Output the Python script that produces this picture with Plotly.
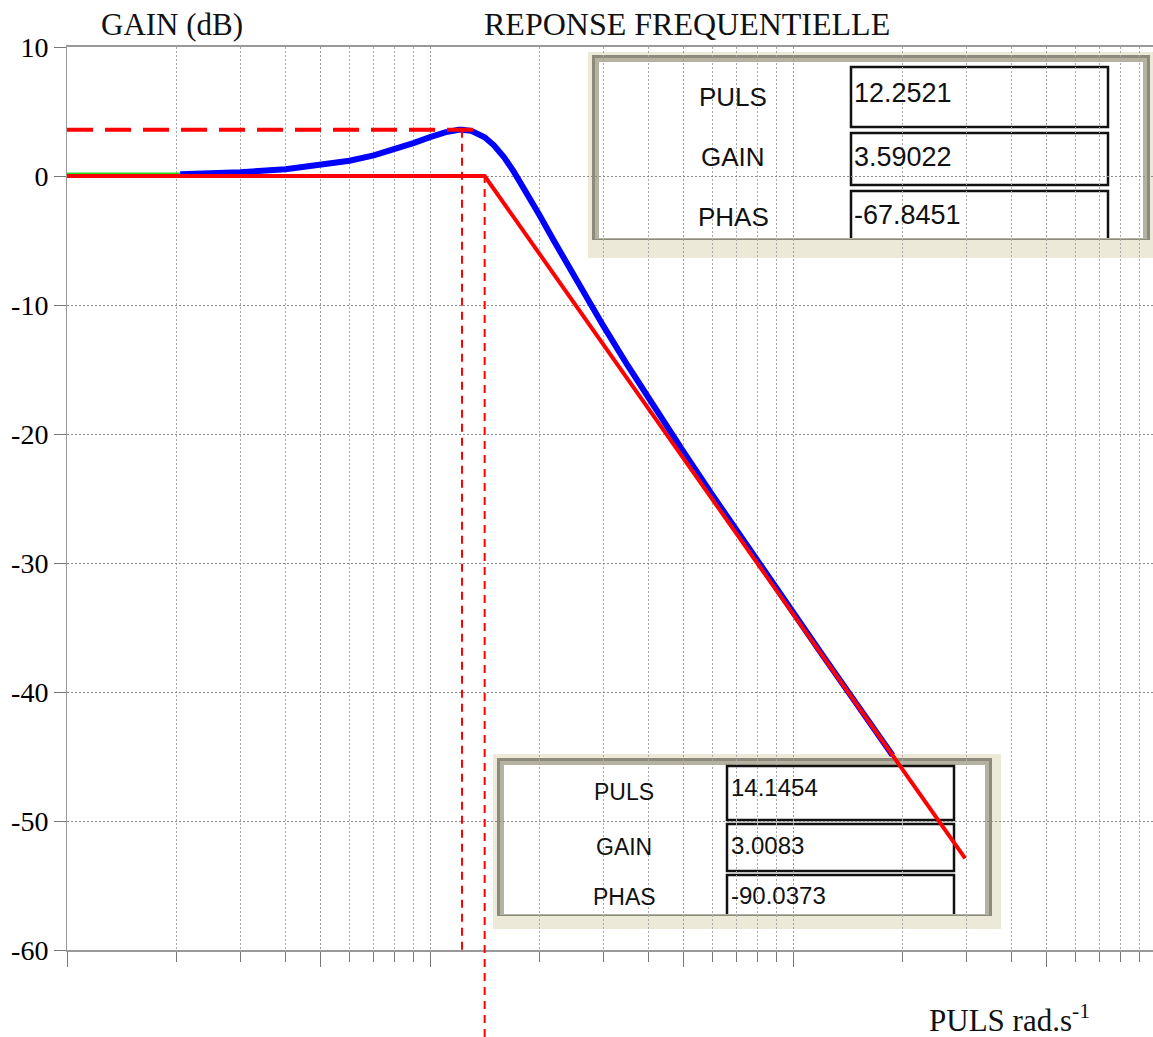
import plotly.graph_objects as go

# ---- data ----------------------------------------------------------------
# measured frequency response (rad/s, dB)
PULS_MESURE = [2.05, 3, 4, 5, 6, 7, 8, 9, 10, 11, 12, 12.2521, 13, 14.1454, 15, 16,
               17, 18, 20, 22, 25, 30, 35, 40, 50, 60, 70, 80, 100, 120, 150, 188]
GAIN_MESURE = [0.14, 0.29, 0.52, 0.82, 1.18, 1.6, 2.06, 2.55, 3.01, 3.38, 3.58, 3.59022,
               3.5, 3.0083, 2.38, 1.44, 0.36, -0.77, -3.0, -5.08, -7.83, -11.6, -14.67,
               -17.24, -21.41, -24.74, -27.51, -29.89, -33.84, -37.05, -40.96, -44.9]

# low-frequency start of the response
PULS_BF = [1, 2.05]
GAIN_BF = [0.2, 0.2]

# asymptotic diagram: 0 dB then -40 dB/decade after the natural pulsation
PULS_ASYM = [1, 14.1454, 298]
GAIN_ASYM = [0, 0, -52.9]

# resonance readout
PULS_RES = 12.2521
GAIN_RES = 3.59022
PHAS_RES = -67.8451
PULS_PEAK_END = 13.6

# natural pulsation readout
PULS_0 = 14.1454
GAIN_0 = 3.0083
PHAS_0 = -90.0373

Y_TICKS = [10, 0, -10, -20, -30, -40, -50, -60]
X_MAJOR = [1, 5, 10, 50, 100, 500]
X_MINOR = [m * d for d in (1, 10, 100) for m in range(2, 10) if m != 5] + [1000]

# ---- layout geometry -----------------------------------------------------
W, H = 1153, 1037
ML, MR, MT, MB = 67, 0, 47, 87
PW, PH = W - ML - MR, H - MT - MB
DECADE_PX = 363
Y_MIN, Y_MAX = -60, 10


def px(x):
    return (x - ML) / PW


def py(y):
    return (H - MB - y) / PH


fig = go.Figure()

fig.add_trace(go.Scatter(x=PULS_BF, y=GAIN_BF, mode="lines",
                         line=dict(color="#22dd22", width=2), hoverinfo="skip"))
fig.add_trace(go.Scatter(x=PULS_MESURE, y=GAIN_MESURE, mode="lines",
                         line=dict(color="#0000ff", width=6), hoverinfo="skip"))
fig.add_trace(go.Scatter(x=PULS_ASYM, y=GAIN_ASYM, mode="lines",
                         line=dict(color="#ff0000", width=4), hoverinfo="skip"))
fig.add_trace(go.Scatter(x=[1, PULS_PEAK_END], y=[GAIN_RES, GAIN_RES], mode="lines",
                         line=dict(color="#ff0000", width=4, dash="26px,12px"),
                         hoverinfo="skip"))
fig.add_trace(go.Scatter(x=[PULS_RES, PULS_RES], y=[GAIN_RES, Y_MIN], mode="lines",
                         line=dict(color="#ff0000", width=2, dash="8px,6px"),
                         hoverinfo="skip"))

shapes = []
# vertical marker at the natural pulsation, running below the axis
shapes.append(dict(type="line", xref="x", yref="paper",
                   x0=PULS_0, x1=PULS_0,
                   y0=-MB / PH, y1=(0 - Y_MIN) / (Y_MAX - Y_MIN),
                   line=dict(color="#ff0000", width=2, dash="8px,6px"),
                   layer="above"))


def rect(x0, y0, x1, y1, fill):
    return dict(type="rect", xref="paper", yref="paper",
                x0=px(x0), x1=px(x1), y0=py(y1), y1=py(y0),
                fillcolor=fill, line=dict(width=0), layer="between")


def panel(outer, inner, fields_x, fields_y):
    """Readout panel: beige frame, sunken bevel, white face and three fields."""
    x0, y0, x1, y1 = outer
    ix0, iy0, ix1, iy1 = inner
    out = [rect(x0, y0, x1, y1, "#ECE9D8"),
           # bevel: dark outer edge, softer inner edge
           rect(ix0 - 7, iy0 - 7, ix1 + 7, iy1 + 2, "#8C8A7A"),
           rect(ix0 - 4, iy0 - 4, ix1 + 4, iy1 + 1, "#B5B2A2"),
           rect(ix0, iy0, ix1, iy1, "#FFFFFF")]
    fx0, fx1 = fields_x
    for i, (fy0, fy1) in enumerate(fields_y):
        if i < 2:
            out.append(dict(type="rect", xref="paper", yref="paper",
                            x0=px(fx0), x1=px(fx1), y0=py(fy1), y1=py(fy0),
                            line=dict(color="#111111", width=2.5), layer="between"))
        else:
            path = "M {a},{b} L {a},{c} L {d},{c} L {d},{b}".format(
                a=px(fx0), b=py(fy1), c=py(fy0), d=px(fx1))
            out.append(dict(type="path", xref="paper", yref="paper", path=path,
                            line=dict(color="#111111", width=2.5), layer="between"))
    return out


shapes += panel((588, 52, 1165, 258), (599, 62, 1143, 238),
                (851, 1108), [(67, 127), (133, 185), (191, 238)])
shapes += panel((493, 754, 1001, 929), (504, 765, 985, 914),
                (727, 954), [(766, 820), (824, 871), (875, 914)])

SANS = "Liberation Sans, Arial, sans-serif"
SERIF = "Liberation Serif, Times New Roman, serif"

annotations = []


def text(s, x, y, size, anchor="center", family=SANS):
    annotations.append(dict(text=s, xref="paper", yref="paper", x=px(x), y=py(y),
                            xanchor=anchor, yanchor="middle", showarrow=False,
                            font=dict(family=family, size=size, color="#111111")))


# readout at resonance
for lbl, val, yl, yv in [("PULS", PULS_RES, 97, 93), ("GAIN", GAIN_RES, 157, 157),
                         ("PHAS", PHAS_RES, 217, 215)]:
    text(lbl, 733, yl, 26)
    text(f"{val:g}", 852, yv, 27, anchor="left")

# readout at the natural pulsation
for lbl, val, yl, yv in [("PULS", PULS_0, 792, 787), ("GAIN", GAIN_0, 847, 845),
                         ("PHAS", PHAS_0, 897, 895)]:
    text(lbl, 624, yl, 23)
    text(f"{val:g}", 729, yv, 24, anchor="left")

text("GAIN (dB)", 172, 24, 31, family=SERIF)
text("REPONSE FREQUENTIELLE", 687, 24, 32, family=SERIF)
text("PULS rad.s<sup>-1</sup>", 927, 1018, 31, anchor="left", family=SERIF)

fig.update_layout(
    width=W, height=H,
    margin=dict(l=ML, r=MR, t=MT, b=MB, pad=0),
    paper_bgcolor="white", plot_bgcolor="white",
    showlegend=False,
    shapes=shapes,
    annotations=annotations,
    xaxis=dict(
        type="log", range=[0, PW / DECADE_PX],
        tickmode="array", tickvals=X_MAJOR, showticklabels=False,
        ticks="outside", ticklen=15, tickcolor="#777", tickwidth=1,
        showgrid=True, gridcolor="#9a9a9a", gridwidth=1, griddash="2px,2px",
        minor=dict(tickmode="array", tickvals=X_MINOR, ticks="outside", ticklen=10,
                   tickcolor="#777", showgrid=True, gridcolor="#a8a8a8",
                   gridwidth=1, griddash="2px,2px"),
        showline=True, linecolor="#999", linewidth=2, mirror=True,
        zeroline=False, fixedrange=True,
    ),
    yaxis=dict(
        range=[Y_MIN, Y_MAX], tickmode="array", tickvals=Y_TICKS,
        ticktext=[str(v) for v in Y_TICKS],
        ticks="outside", ticklen=12, tickcolor="#777",
        tickfont=dict(family=SERIF, size=28, color="#000"),
        showgrid=True, gridcolor="#8a8a8a", gridwidth=1, griddash="2px,2px",
        showline=True, linecolor="#999", linewidth=1,
        zeroline=False, fixedrange=True,
    ),
)

fig.write_html("out.html")
